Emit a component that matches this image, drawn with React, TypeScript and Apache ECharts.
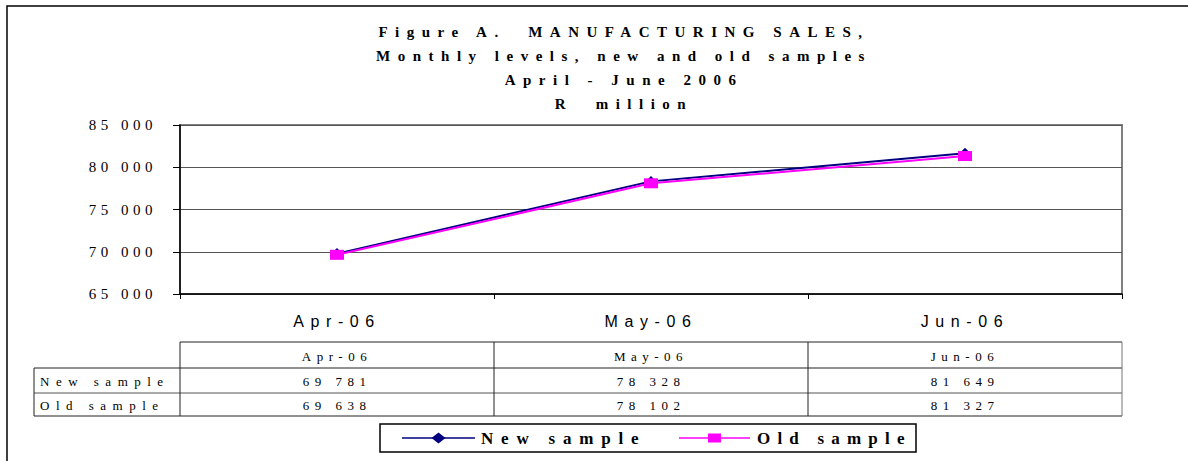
import React, { useEffect, useRef } from "react";
import * as echarts from "echarts";

// ---- data ----
const categories = ["Apr-06", "May-06", "Jun-06"];
const seriesNames = ["New sample", "Old sample"];
const newSample = [69781, 78328, 81649];
const oldSample = [69638, 78102, 81327];
const seriesColors = ["#000080", "#FF00FF"];
const titleLines = [
  "Figure A.  MANUFACTURING SALES,",
  "Monthly levels, new and old samples",
  "April - June 2006",
  "R  million",
];
const yMin = 65000;
const yMax = 85000;
const yInterval = 5000;

const SERIF = "'Liberation Serif', 'Times New Roman', serif";
const SANS = "'Liberation Sans', Arial, sans-serif";

const fmtThousands = (v: number) => {
  const s = String(v);
  return s.slice(0, s.length - 3) + " " + s.slice(s.length - 3);
};

export default function App() {
  const ref = useRef<HTMLDivElement>(null);

  useEffect(() => {
    const el = ref.current!;
    const chart = echarts.init(el, null, { renderer: "svg" });

    const gridLeft = 180;
    const gridRight = 66;
    const gridTop = 125;
    const gridBottom = 167;

    const option: any = {
      animation: false,
      backgroundColor: "#ffffff",
      grid: {
        left: gridLeft,
        right: gridRight,
        top: gridTop,
        bottom: gridBottom,
        show: true,
        borderColor: "#808080",
        borderWidth: 2,
        backgroundColor: "transparent",
      },
      xAxis: {
        type: "category",
        data: categories,
        boundaryGap: true,
        axisLine: { lineStyle: { color: "#000", width: 1.5 } },
        axisTick: { show: true, length: 5, lineStyle: { color: "#000" } },
        axisLabel: { fontFamily: SANS, fontSize: 16, color: "#000", margin: 19 },
      },
      yAxis: {
        type: "value",
        min: yMin,
        max: yMax,
        interval: yInterval,
        axisLine: { show: true, lineStyle: { color: "#000", width: 1.5 } },
        axisTick: { show: true, length: 7, lineStyle: { color: "#000" } },
        axisLabel: {
          fontFamily: SERIF,
          fontSize: 15,
          color: "#000",
          margin: 23,
          formatter: (v: number) => fmtThousands(v),
        },
        splitLine: { lineStyle: { color: "#555", width: 1 } },
      },
      series: [
        {
          name: seriesNames[0],
          type: "line",
          data: newSample,
          symbol: "diamond",
          symbolSize: [11, 11],
          itemStyle: { color: seriesColors[0] },
          lineStyle: { color: seriesColors[0], width: 2 },
          z: 2,
        },
        {
          name: seriesNames[1],
          type: "line",
          data: oldSample,
          symbol: "rect",
          symbolSize: [14, 10],
          itemStyle: { color: seriesColors[1] },
          lineStyle: { color: seriesColors[1], width: 2 },
          z: 3,
        },
      ],
    };

    chart.setOption(option);

    // data table + titles, positioned from the category axis
    const xs = categories.map((_, i) => chart.convertToPixel({ xAxisIndex: 0 }, i) as number);
    const colW = categories.length > 1 ? xs[1] - xs[0] : 942;
    const tLeft = xs[0] - colW / 2;
    const tRight = xs[xs.length - 1] + colW / 2;
    const labelLeft = 34;
    const rowY = [342, 368, 393, 416];
    const lineCol = "#222";

    const graphic: any[] = [];
    graphic.push({
      type: "rect",
      shape: { x: 7, y: 6, width: 1400, height: 800 },
      style: { fill: "none", stroke: "#000", lineWidth: 1.5 },
      silent: true,
    });
    titleLines.forEach((t, i) => {
      graphic.push({
        type: "text",
        x: 624,
        y: 32 + i * 24,
        style: {
          text: t,
          fontFamily: SERIF,
          fontWeight: "bold",
          fontSize: 15,
          fill: "#000",
          align: "center",
          verticalAlign: "middle",
        },
      });
    });
    // table lines
    const hl = (x1: number, x2: number, y: number, c = lineCol) =>
      graphic.push({ type: "line", shape: { x1, y1: y, x2, y2: y }, style: { stroke: c, lineWidth: 1 } });
    const vl = (x: number, y1: number, y2: number, c = lineCol) =>
      graphic.push({ type: "line", shape: { x1: x, y1, x2: x, y2 }, style: { stroke: c, lineWidth: 1 } });
    hl(tLeft, tRight, rowY[0]);
    hl(labelLeft, tRight, rowY[1]);
    hl(labelLeft, tRight, rowY[2], "#555");
    hl(labelLeft, tRight, rowY[3]);
    vl(labelLeft, rowY[1], rowY[3]);
    vl(tLeft, rowY[0], rowY[3]);
    for (let i = 1; i < categories.length; i++) vl(xs[i] - colW / 2, rowY[0], rowY[3]);
    vl(tRight, rowY[0], rowY[3], "#777");

    const cellText = (text: string, x: number, y: number, align: string) =>
      graphic.push({
        type: "text",
        x,
        y,
        style: { text, fontFamily: SERIF, fontSize: 13, fill: "#000", align, verticalAlign: "middle" },
      });
    categories.forEach((c, i) => cellText(c, xs[i], (rowY[0] + rowY[1]) / 2 + 1, "center"));
    const rows = [newSample, oldSample];
    rows.forEach((vals, r) => {
      const yc = (rowY[r + 1] + rowY[r + 2]) / 2 + 1;
      cellText(seriesNames[r], labelLeft + 6, yc, "left");
      vals.forEach((v, i) => cellText(fmtThousands(v), xs[i], yc, "center"));
    });

    // legend box (drawn with graphic so the letter-spaced labels fit)
    const lgTop = 424;
    const lgH = 28;
    const lgCy = lgTop + lgH / 2;
    graphic.push({
      type: "rect",
      shape: { x: 380, y: lgTop, width: 536, height: lgH },
      style: { fill: "#fff", stroke: "#000", lineWidth: 1.5 },
    });
    const legendItems = [
      { x: 402, lineW: 73, textX: 481 },
      { x: 679, lineW: 71, textX: 757 },
    ];
    legendItems.forEach((it, i) => {
      const c = seriesColors[i];
      const mx = it.x + it.lineW / 2;
      graphic.push({
        type: "line",
        shape: { x1: it.x, y1: lgCy, x2: it.x + it.lineW, y2: lgCy },
        style: { stroke: c, lineWidth: 1.5 },
      });
      if (i === 0) {
        graphic.push({
          type: "polygon",
          shape: { points: [[mx - 7, lgCy], [mx, lgCy - 5.5], [mx + 7, lgCy], [mx, lgCy + 5.5]] },
          style: { fill: c },
        });
      } else {
        graphic.push({
          type: "rect",
          shape: { x: mx - 6.5, y: lgCy - 4.5, width: 13, height: 9 },
          style: { fill: c },
        });
      }
      graphic.push({
        type: "text",
        x: it.textX,
        y: lgCy,
        style: {
          text: seriesNames[i],
          fontFamily: SERIF,
          fontWeight: "bold",
          fontSize: 17,
          fill: "#000",
          align: "left",
          verticalAlign: "middle",
        },
      });
    });

    chart.setOption({ graphic: { elements: graphic } });

    const applySpacing = () => {
      el.querySelectorAll("text").forEach((t) => {
        const node = t as SVGTextElement;
        const cs = getComputedStyle(node);
        const txt = node.textContent || "";
        const bold = cs.fontWeight === "bold" || parseInt(cs.fontWeight, 10) >= 600;
        const size = parseFloat(cs.fontSize);
        const sans = cs.fontFamily.indexOf("Sans") >= 0;
        let s = 0;
        if (bold && size >= 16.5) s = txt === seriesNames[0] ? 7.8 : 7.2;
        else if (bold) s = 7.5;
        else if (sans) s = 6.6;
        else if (size >= 14.5) s = 4.5;
        else if (seriesNames.indexOf(txt) >= 0) s = 6.5;
        else s = 5.5;
        node.style.letterSpacing = s + "px";
      });
    };
    applySpacing();
    chart.on("finished", applySpacing);

    return () => {
      chart.dispose();
    };
  }, []);

  return (
    <div
      ref={ref}
      style={{ position: "absolute", left: 0, top: 0, width: 1188, height: 461, background: "#fff" }}
    />
  );
}
